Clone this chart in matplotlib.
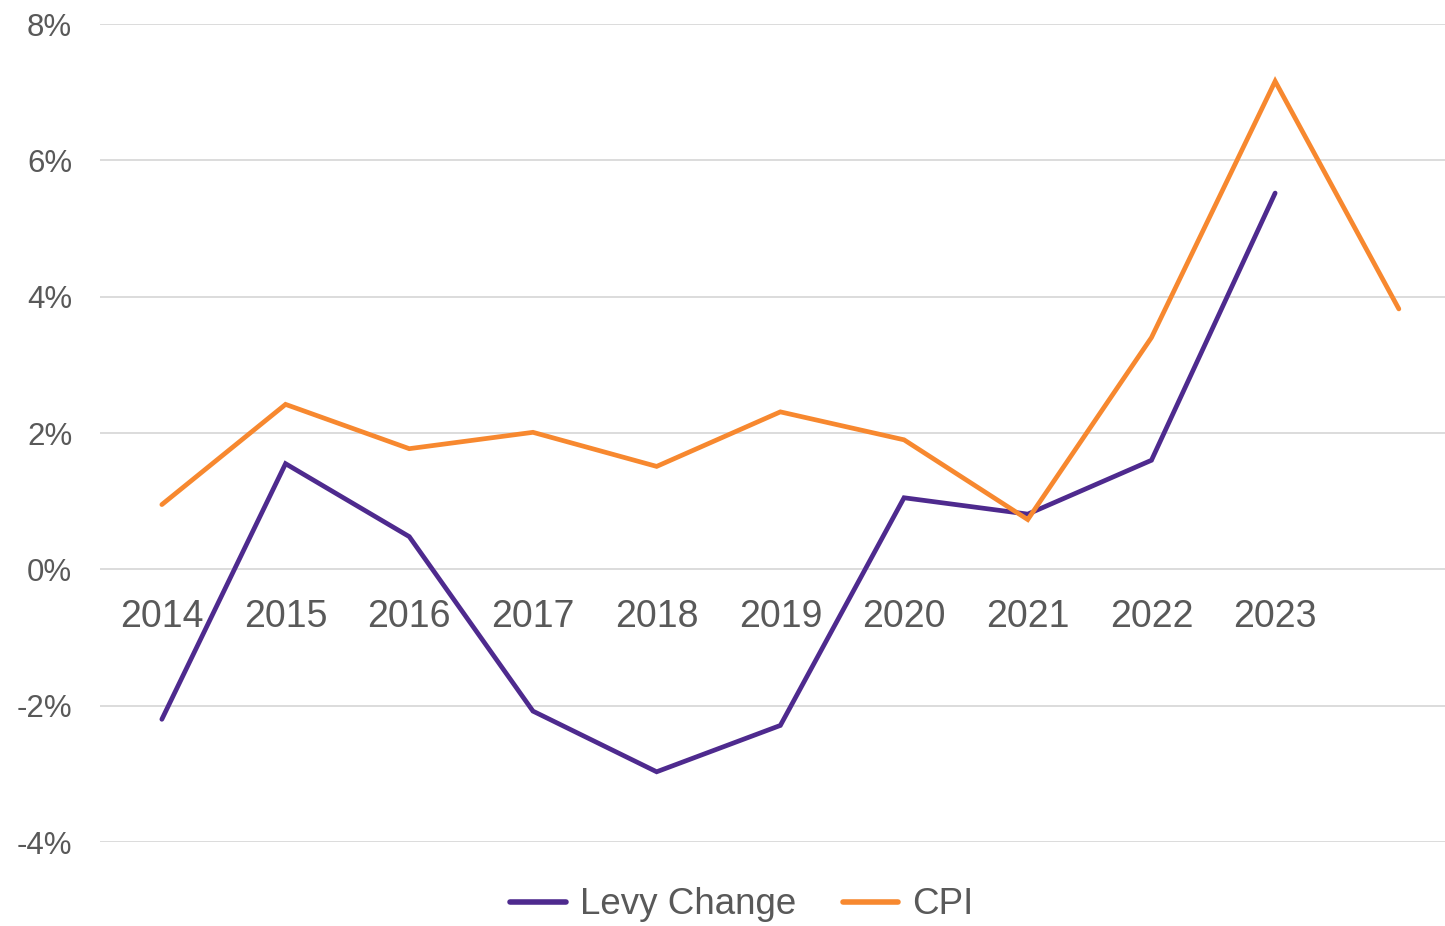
import numpy as np
import matplotlib.pyplot as plt

plt.rcParams['font.family'] = ['Liberation Sans', 'DejaVu Sans']

# values (percent)
years = ['2014', '2015', '2016', '2017', '2018', '2019', '2020', '2021', '2022', '2023', '']
levy_change = [-2.2, 1.55, 0.48, -2.08, -2.97, -2.29, 1.05, 0.81, 1.6, 5.52]
cpi = [0.95, 2.42, 1.77, 2.01, 1.51, 2.31, 1.9, 0.73, 3.4, 7.16, 3.82]
yticks = [-4, -2, 0, 2, 4, 6, 8]

purple = '#4E2A8E'
orange = '#F7882F'
grey_text = '#595959'

fig = plt.figure(figsize=(14.45, 9.26), dpi=100)
ax = fig.add_axes([100 / 1445, 1 - 842 / 926, 1345 / 1445, (842 - 24) / 926])

x = np.arange(len(years))
ax.plot(x[:len(levy_change)], levy_change, color=purple, lw=3.4, solid_capstyle='round',
        solid_joinstyle='miter', label='Levy Change', zorder=3)
ax.plot(x[:len(cpi)], cpi, color=orange, lw=3.4, solid_capstyle='round',
        solid_joinstyle='miter', label='CPI', zorder=3)

ax.set_ylim(-4, 8)
ax.set_xlim(-0.5, -0.5 + 1345 / 123.7)
ax.set_yticks(yticks)
ax.set_yticklabels([f'{v}%' for v in yticks], fontsize=22.5, color=grey_text)
ax.grid(axis='y', color='#D9D9D9', lw=1.3)
ax.set_axisbelow(True)
ax.tick_params(axis='y', length=0, pad=20)
ax.tick_params(axis='x', length=0)
ax.set_xticks([])
for s in ax.spines.values():
    s.set_visible(False)

# category labels sit just under the zero line, Excel style
for xi, lab in zip(x, years):
    ax.text(xi, -0.44, lab, ha='center', va='top', fontsize=27, color=grey_text)

leg = fig.legend(loc='center', bbox_to_anchor=(742 / 1445, 1 - 905 / 926), ncol=2,
                 frameon=False, fontsize=26.5, handlelength=1.5, handletextpad=0.4,
                 columnspacing=1.25)
for t in leg.get_texts():
    t.set_color(grey_text)
for h in leg.get_lines():
    h.set_linewidth(4)
    h.set_solid_capstyle('round')

fig.savefig('out.png', dpi=100)
